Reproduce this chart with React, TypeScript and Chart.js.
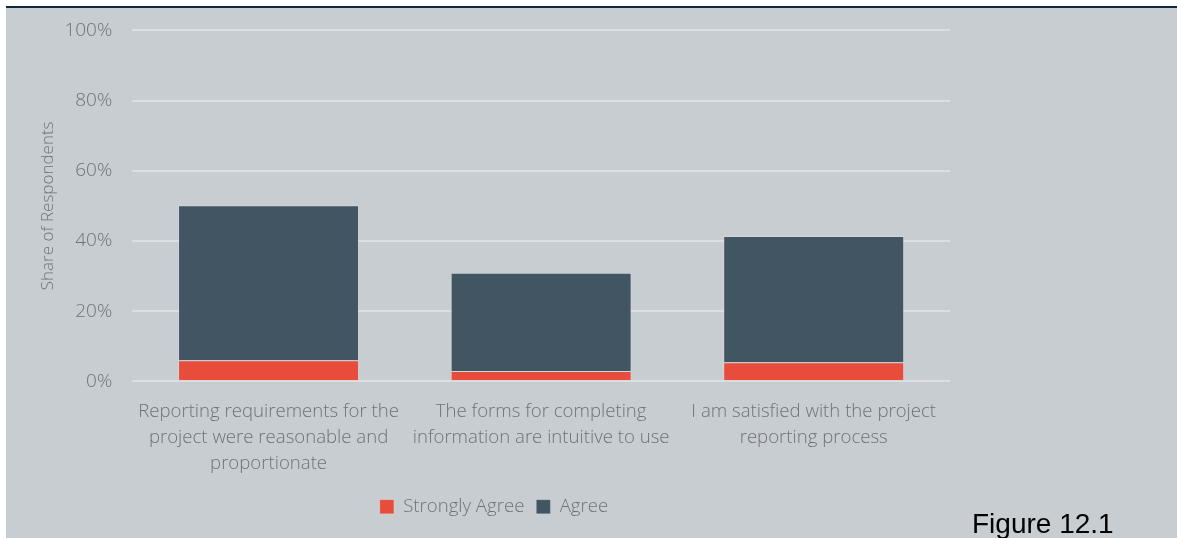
import React, { useEffect, useRef } from "react";
import { Chart, registerables } from "chart.js";

Chart.register(...registerables);

const categories: string[][] = [
  ["Reporting requirements for the", "project were reasonable and", "proportionate"],
  ["The forms for completing", "information are intuitive to use"],
  ["I am satisfied with the project", "reporting process"],
];
const stronglyAgree: number[] = [6.0, 2.9, 5.4];
const agree: number[] = [44.2, 28.0, 36.0];
const yTicks: number[] = [0, 20, 40, 60, 80, 100];

const BG = "#c8cdd1";
const TEXT = "#6f7377";
const FONT = "'Open Sans'";

export default function App() {
  const ref = useRef<HTMLCanvasElement | null>(null);

  useEffect(() => {
    document.body.style.margin = "0";
    const canvas = ref.current;
    if (!canvas) return;
    const chart = new Chart(canvas, {
      type: "bar",
      data: {
        labels: categories,
        datasets: [
          {
            label: "Strongly Agree",
            data: stronglyAgree,
            backgroundColor: "#e84c3a",
            borderColor: "rgba(255,255,255,0.18)",
            borderWidth: 1,
            barPercentage: 0.83,
            categoryPercentage: 0.8,
          },
          {
            label: "Agree",
            data: agree,
            backgroundColor: "#415563",
            borderColor: "rgba(255,255,255,0.18)",
            borderWidth: 1,
            barPercentage: 0.83,
            categoryPercentage: 0.8,
          },
        ],
      },
      options: {
        responsive: false,
        animation: false,
        devicePixelRatio: 1,
        layout: { padding: { top: 0, right: 32, bottom: 14, left: 32 } },
        plugins: {
          tooltip: { enabled: false },
          legend: {
            position: "bottom",
            labels: {
              boxWidth: 14,
              boxHeight: 14,
              padding: 12,
              color: TEXT,
              font: { family: FONT, size: 18.6, weight: "300" },
            },
          },
        },
        scales: {
          x: {
            stacked: true,
            grid: { display: false },
            border: { display: false },
            ticks: {
              color: TEXT,
              padding: 9,
              maxRotation: 0,
              autoSkip: false,
              font: { family: FONT, size: 18.6, weight: "300", lineHeight: 1.4 },
            },
          },
          y: {
            stacked: true,
            min: 0,
            max: 100,
            afterBuildTicks: (axis: any) => {
              axis.ticks = yTicks.map((v) => ({ value: v }));
            },
            grid: { color: "#dcdfe2", lineWidth: 2, drawTicks: false },
            border: { display: false },
            ticks: {
              color: TEXT,
              padding: 20,
              callback: (v: any) => `${v}%`,
              font: { family: FONT, size: 19, weight: "300" },
            },
            title: {
              display: true,
              text: "Share of Respondents",
              color: TEXT,
              padding: { top: 0, bottom: -14 },
              font: { family: FONT, size: 17, weight: "300" },
            },
          },
        },
      },
    });
    return () => chart.destroy();
  }, []);

  return (
    <div
      style={{
        position: "absolute",
        left: 6,
        top: 6,
        width: 1171,
        height: 532,
        background: BG,
        borderTop: "2px solid #0f2a3d",
        overflow: "hidden",
      }}
    >
      <canvas
        ref={ref}
        width={976}
        height={541}
        style={{ position: "absolute", left: 0, top: -9, width: 976, height: 541 }}
      />
      <div
        style={{
          position: "absolute",
          left: 966,
          top: 498,
          fontFamily: "'Liberation Sans', Arial, sans-serif",
          fontSize: 28,
          lineHeight: "36px",
          color: "#000",
          whiteSpace: "nowrap",
        }}
      >
        Figure 12.1
      </div>
    </div>
  );
}
